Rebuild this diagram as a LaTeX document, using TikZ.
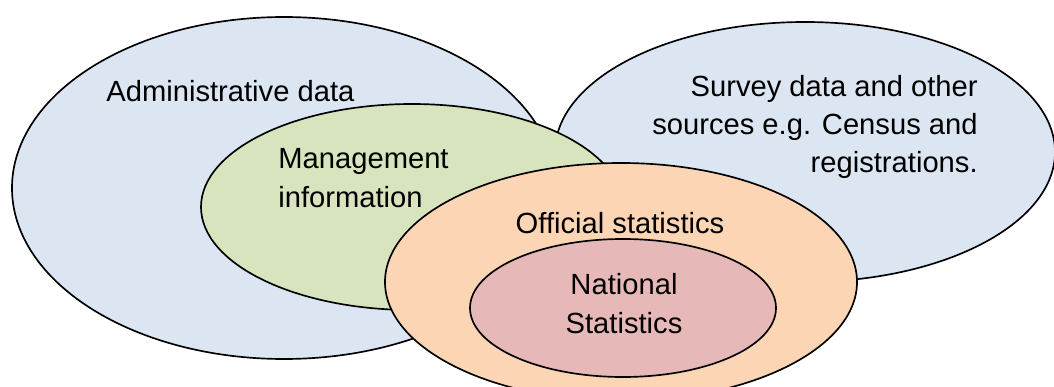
\documentclass[tikz,border=0pt]{standalone}
\usepackage{fontspec}
\setmainfont{Liberation Sans}
\usetikzlibrary{shapes.geometric}
\definecolor{adminblue}{HTML}{DCE6F2}
\definecolor{mgmtgreen}{HTML}{D7E4BD}
\definecolor{officialorange}{HTML}{FCD5B5}
\definecolor{nationalred}{HTML}{E6B9B8}

\begin{document}
\begin{tikzpicture}[
    setshape/.style={ellipse, draw, line width=0.95pt, inner sep=0pt},
    settext/.style={inner sep=0pt, font=\fontsize{16.6pt}{21.8pt}\selectfont}
  ]
  \clip (0.00,0.00) rectangle (21.08,-7.74);
  % Draw the data sets, back to front
  \node[setshape, fill=adminblue, minimum width=10.88cm, minimum height=6.84cm] (admin) at (5.68,-3.76) {};
  \node[setshape, fill=adminblue, minimum width=10.00cm, minimum height=5.20cm] (survey) at (16.10,-3.04) {};
  \node[setshape, fill=mgmtgreen, minimum width=8.44cm, minimum height=4.12cm] (mgmt) at (8.24,-4.14) {};
  \node[setshape, fill=officialorange, minimum width=9.44cm, minimum height=4.76cm] (official) at (12.42,-5.64) {};
  \node[setshape, fill=nationalred, minimum width=6.12cm, minimum height=2.76cm] (national) at (12.46,-6.16) {};
  % Draw the labels (base of a two or three line label is its last line)
  \node[settext, anchor=base west] (admintext) at (2.12,-2.04) {Administrative data};
  \node[settext, anchor=base west, align=left] (mgmttext) at (5.56,-4.14) {Management\\information};
  \node[settext, anchor=base east, align=right] (surveytext) at (19.56,-3.46) {Survey data and other\\sources e.g. Census and\\registrations.};
  \node[settext, anchor=base] (officialtext) at (12.40,-4.66) {Official statistics};
  \node[settext, anchor=base, align=center] (nationaltext) at (12.48,-6.66) {National\\Statistics};
\end{tikzpicture}
\end{document}
